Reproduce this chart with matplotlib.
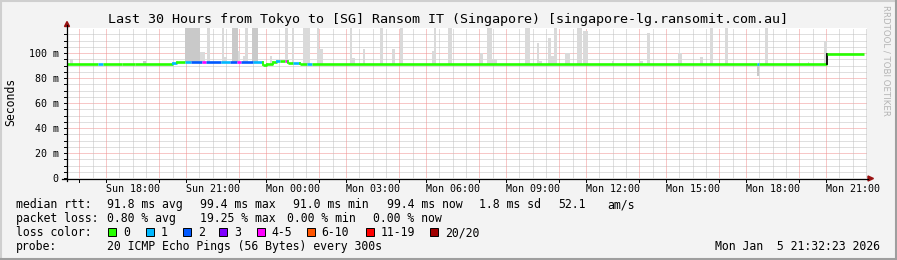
import numpy as np
import matplotlib
matplotlib.use('Agg')
import matplotlib.pyplot as plt
from matplotlib.patches import Rectangle, Polygon
from matplotlib.lines import Line2D

W, H = 897, 260
DPI = 100
MONO = 'DejaVu Sans Mono'

# x is clock hours counted from Sun 00:00
T0 = 15 + 32 / 60 + 23 / 3600
T1 = T0 + 30
YMAX = 120

title = 'Last 30 Hours from Tokyo to [SG] Ransom IT (Singapore) [singapore-lg.ransomit.com.au]'
tick_hours = [18, 21, 24, 27, 30, 33, 36, 39, 42, 45]
tick_labels = ['Sun 18:00', 'Sun 21:00', 'Mon 00:00', 'Mon 03:00', 'Mon 06:00',
               'Mon 09:00', 'Mon 12:00', 'Mon 15:00', 'Mon 18:00', 'Mon 21:00']
y_ticks = [0, 20, 40, 60, 80, 100]
y_labels = ['0', '20 m', '40 m', '60 m', '80 m', '100 m']

# median rtt (ms) per segment, and lost pings (of 20)
med_edges = [15.54, 16.70, 16.89, 17.60, 18.10, 19.50, 19.66, 19.96, 20.20, 20.60,
             20.75, 21.30, 21.65, 21.90, 22.05, 22.50, 22.90, 23.05, 23.26, 23.41,
             23.53, 23.71, 23.83, 24.01, 24.28, 24.54, 24.73, 41.41, 41.49, 44.04, 45.43]
med_ms = [91.6, 91.2, 91.6, 91.3, 91.6, 92.0, 92.6, 92.8, 92.8, 92.8,
          92.8, 92.6, 92.8, 92.8, 92.8, 92.6, 90.6, 91.4, 92.5, 94.0,
          93.4, 93.4, 92.0, 92.4, 91.6, 91.4, 91.3, 91.3, 91.3, 99.4]
med_loss = [0, 1, 0, 0, 0, 1, 0, 1, 2, 5,
            2, 1, 2, 5, 2, 1, 0, 0, 0, 1,
            0, 5, 0, 1, 0, 1, 0, 1, 0, 0]

# smoke above the median: start, end (hours), top (ms), darker shade
spike_start = [15.65, 18.39, 19.96, 20.53, 20.79, 21.35, 21.43, 21.73, 21.95, 22.14,
               22.21, 22.48, 23.15, 23.71, 23.98, 24.39, 24.91, 24.99, 26.15, 26.23,
               26.64, 27.28, 27.73, 28.03, 29.23, 29.31, 29.83, 31.03, 31.29, 31.48,
               32.71, 33.16, 33.24, 33.58, 33.69, 33.80, 34.21, 34.66, 34.89, 35.98,
               37.03, 37.29, 38.45, 39.28, 39.65, 40.21, 41.71, 43.33, 43.93]
spike_end = [15.76, 18.50, 20.53, 20.72, 20.90, 21.43, 21.54, 21.95, 22.03, 22.21,
             22.33, 22.70, 23.23, 23.83, 24.05, 24.65, 24.99, 25.14, 26.23, 26.34,
             26.71, 27.39, 27.84, 28.14, 29.31, 29.38, 29.98, 31.14, 31.48, 31.67,
             32.90, 33.24, 33.35, 33.69, 33.80, 33.91, 34.40, 34.85, 35.08, 36.06,
             37.14, 37.40, 38.60, 39.39, 39.76, 40.33, 41.82, 43.37, 44.04]
spike_top = [95, 93.5, 120, 101, 120, 120, 97, 120, 102, 98,
             120, 120, 98, 120, 120, 120, 120, 103, 120, 96,
             103, 120, 103, 120, 102, 120, 120, 100, 120, 95,
             120, 108, 94, 112, 98, 120, 100, 120, 118, 94,
             94, 116, 100, 97, 120, 120, 120, 93, 110]
spike_dark = [0, 1, 1, 0, 0, 0, 0, 1, 0, 0,
              0, 1, 0, 0, 0, 0, 0, 0, 0, 0,
              0, 0, 0, 0, 0, 0, 0, 0, 0, 0,
              0, 0, 0, 0, 0, 0, 0, 0, 0, 0,
              0, 0, 0, 0, 0, 0, 0, 0, 0]

# smoke below the median
dip_start = [41.41]
dip_end = [41.49]
dip_low = [81.6]

loss_codes = [0, 1, 2, 3, 5, 10, 19, 20]
loss_names = ['0', '1', '2', '3', '4-5', '6-10', '11-19', '20/20']
loss_colors = ['#26ff00', '#00b8ff', '#0059ff', '#7e00ff', '#ff00ff', '#ff5500', '#ff0000', '#a00000']

stats_rtt = [('median rtt:', 16), ('91.8 ms avg', 107), ('99.4 ms max', 200), ('91.0 ms min', 293),
             ('99.4 ms now', 387), ('1.8 ms sd', 479), ('52.1', 558), ('am/s', 607)]
stats_loss = [('packet loss:', 16), ('0.80 % avg', 107), ('19.25 % max', 200),
              ('0.00 % min', 287), ('0.00 % now', 373)]
loss_box_x = [108, 145.7, 182.7, 219.3, 256.7, 306.7, 366, 430]
probe_text = '20 ICMP Echo Pings (56 Bytes) every 300s'
date_text = 'Mon Jan  5 21:32:23 2026'


def loss_color(n):
    for code, c in zip(loss_codes, loss_colors):
        if n <= code:
            return c
    return loss_colors[-1]


def fx(x):
    return x / W


def fy(y):
    return 1 - y / H


fig = plt.figure(figsize=(W / DPI, H / DPI), dpi=DPI, facecolor='#f3f3f3')

# plot canvas: 800 x 150 px
PL, PT, PW, PH = 67, 28, 800, 150
ax = fig.add_axes([fx(PL), fy(PT + PH), PW / W, PH / H])
ax.set_facecolor('white')
ax.set_xlim(T0, T1)
ax.set_ylim(0, YMAX)
for s in ax.spines.values():
    s.set_visible(False)
ax.set_xticks(tick_hours)
ax.set_xticklabels(tick_labels, fontfamily=MONO, fontsize=7.2)
ax.set_yticks(y_ticks)
ax.set_yticklabels(y_labels, fontfamily=MONO, fontsize=7.2)
ax.tick_params(axis='both', length=0)
ax.tick_params(axis='x', pad=4.5)
ax.tick_params(axis='y', pad=6)

# grid
dot = (0, (1, 1))
gray_grid = '#c0c0c0'
red_grid = '#f09090'
minor_y = [v for v in np.arange(5, YMAX, 5) if v % 20 != 0]
ax.hlines(minor_y, T0, T1, colors=gray_grid, lw=0.72, linestyles=dot, zorder=1)
ax.hlines([v for v in y_ticks if v > 0], T0, T1, colors=red_grid, lw=0.72, linestyles=dot, zorder=1)
half = np.arange(np.ceil(T0 * 2) / 2, T1, 0.5)
red_v = [h for h in half if h % 1 == 0 and h % 3 != 0]
gray_v = [h for h in half if h not in red_v]
ax.vlines(gray_v, 0, YMAX, colors=gray_grid, lw=0.72, linestyles=dot, zorder=1)
ax.vlines(red_v, 0, YMAX, colors=red_grid, lw=0.72, linestyles=dot, zorder=1)

# smoke
edges = np.array(med_edges)
med = np.array(med_ms)
s0 = np.array(spike_start)
s1 = np.array(spike_end)
idx = np.clip(np.searchsorted(edges, (s0 + s1) / 2) - 1, 0, len(med) - 1)
base = med[idx]
top = np.minimum(np.array(spike_top), YMAX)
cols = ['#c9c9c9' if d else '#dadada' for d in spike_dark]
ax.bar(s0, top - base, width=s1 - s0, bottom=base, align='edge', color=cols, lw=0, zorder=2)
d0 = np.array(dip_start)
d1 = np.array(dip_end)
didx = np.clip(np.searchsorted(edges, (d0 + d1) / 2) - 1, 0, len(med) - 1)
ax.bar(d0, med[didx] - np.array(dip_low), width=d1 - d0, bottom=dip_low, align='edge',
       color='#c9c9c9', lw=0, zorder=2)

# median line coloured by loss
for i in range(len(med)):
    c = loss_color(med_loss[i])
    ax.plot([edges[i], edges[i + 1]], [med[i], med[i]], color=c, lw=1.9,
            solid_capstyle='butt', zorder=3)
    if i + 1 < len(med):
        jump = med[i + 1] - med[i]
        cc = '#000000' if abs(jump) > 5 else loss_color(med_loss[i + 1])
        ax.plot([edges[i + 1], edges[i + 1]], [med[i], med[i + 1]], color=cc, lw=1.3, zorder=3)

# axes with arrows
fig.add_artist(Line2D([fx(62), fx(868)], [fy(178.5), fy(178.5)], color='black', lw=0.9))
fig.add_artist(Line2D([fx(67), fx(67)], [fy(181), fy(25)], color='black', lw=0.9))
fig.add_artist(Polygon([[fx(64.5), fy(26.5)], [fx(69.5), fy(26.5)], [fx(67), fy(21.5)]],
                       closed=True, color='#991111', transform=fig.transFigure))
fig.add_artist(Polygon([[fx(868), fy(176)], [fx(868), fy(181)], [fx(873.5), fy(178.5)]],
                       closed=True, color='#991111', transform=fig.transFigure))
for h in red_v:
    x = PL + (h - T0) / 30 * PW
    fig.add_artist(Line2D([fx(x), fx(x)], [fy(178.5), fy(181.5)], color='black', lw=0.7))
for v in np.arange(0, YMAX, 5):
    y = PT + PH - v / YMAX * PH
    fig.add_artist(Line2D([fx(64), fx(67)], [fy(y), fy(y)], color='black', lw=0.7))

# frame
fig.add_artist(Line2D([0, 1], [fy(0.5), fy(0.5)], color='#cfcfcf', lw=1.5))
fig.add_artist(Line2D([fx(0.5), fx(0.5)], [0, 1], color='#cfcfcf', lw=1.5))
fig.add_artist(Line2D([0, 1], [fy(259), fy(259)], color='#9e9e9e', lw=1.5))
fig.add_artist(Line2D([fx(896), fx(896)], [0, 1], color='#9e9e9e', lw=1.5))

# texts
fig.text(fx(448), fy(23.5), title, fontfamily=MONO, fontsize=9.6, ha='center', va='baseline')
fig.text(fx(11), fy(102), 'Seconds', fontfamily=MONO, fontsize=8.3, rotation=90,
         ha='center', va='center')
fig.text(fx(886), fy(5), 'RRDTOOL / TOBI OETIKER', fontfamily='DejaVu Sans', fontsize=6.2,
         color='#b4b4b4', rotation=270, ha='center', va='top')

for txt, x in stats_rtt:
    fig.text(fx(x), fy(208), txt, fontfamily=MONO, fontsize=8.3, va='baseline')
for txt, x in stats_loss:
    fig.text(fx(x), fy(222), txt, fontfamily=MONO, fontsize=8.3, va='baseline')
fig.text(fx(16), fy(236), 'loss color:', fontfamily=MONO, fontsize=8.3, va='baseline')
for bx, name, c in zip(loss_box_x, loss_names, loss_colors):
    fig.add_artist(Rectangle((fx(bx), fy(236)), 8 / W, 8 / H, facecolor=c, edgecolor='black',
                             lw=0.7, transform=fig.transFigure))
    fig.text(fx(bx + 15), fy(236), name, fontfamily=MONO, fontsize=8.3, va='baseline')
fig.text(fx(16), fy(250), 'probe:', fontfamily=MONO, fontsize=8.3, va='baseline')
fig.text(fx(107), fy(250), probe_text, fontfamily=MONO, fontsize=8.3, va='baseline')
fig.text(fx(880), fy(250), date_text, fontfamily=MONO, fontsize=8.3, va='baseline', ha='right')

fig.savefig('out.png', dpi=DPI, facecolor=fig.get_facecolor())
